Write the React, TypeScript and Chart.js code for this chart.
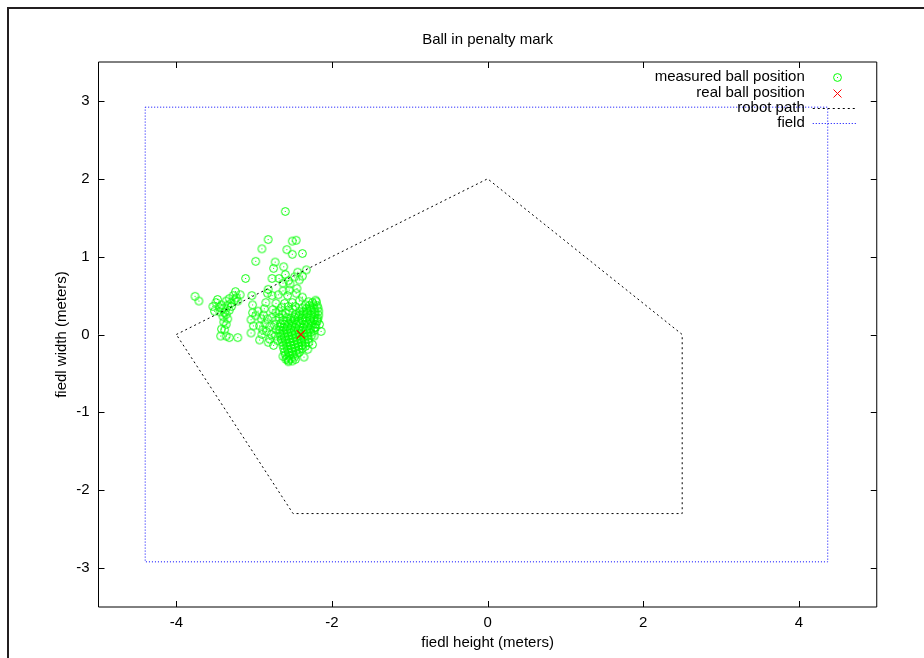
import React, { useEffect, useRef } from 'react';
import { Chart, registerables } from 'chart.js';

Chart.register(...registerables);

const TITLE = 'Ball in penalty mark';
const X_TITLE = 'fiedl height (meters)';
const Y_TITLE = 'fiedl width (meters)';
const X_TICKS = [-4, -2, 0, 2, 4];
const Y_TICKS = [-3, -2, -1, 0, 1, 2, 3];
const X_MIN = -5;
const X_MAX = 5;
const Y_MIN = -3.5;
const Y_MAX = 3.5;

const LEGEND_LABELS = ['measured ball position', 'real ball position', 'robot path', 'field'];

// measured ball positions [x, y]
const measuredPoints: [number, number][] = [
  // upper scatter
  [-2.60, 1.58], [-2.82, 1.22], [-2.90, 1.10], [-2.51, 1.20], [-2.46, 1.21], [-2.58, 1.09],
  [-2.51, 1.03], [-2.38, 1.04], [-2.98, 0.94], [-2.73, 0.93], [-2.75, 0.85], [-2.62, 0.87],
  [-2.33, 0.83], [-2.60, 0.77], [-2.44, 0.80], [-2.38, 0.75], [-2.77, 0.72], [-2.68, 0.72],
  [-2.56, 0.69], [-2.48, 0.74], [-3.11, 0.72], [-2.63, 0.66], [-2.54, 0.65], [-2.42, 0.70],
  [-2.82, 0.58], [-2.63, 0.56], [-2.55, 0.57], [-2.45, 0.59], [-3.03, 0.50], [-2.83, 0.53],
  [-2.77, 0.50], [-2.69, 0.51], [-2.57, 0.50], [-2.46, 0.53], [-2.38, 0.48], [-2.85, 0.41],
  [-2.72, 0.40], [-2.61, 0.40], [-2.51, 0.41], [-2.42, 0.43], [-3.02, 0.38], [-2.21, 0.44],
  // left group
  [-3.76, 0.49], [-3.71, 0.43], [-3.24, 0.55], [-3.18, 0.51], [-3.27, 0.50], [-3.32, 0.46],
  [-3.25, 0.44], [-3.36, 0.43], [-3.47, 0.45], [-3.49, 0.41], [-3.42, 0.38], [-3.53, 0.36],
  [-3.34, 0.37], [-3.29, 0.36], [-3.40, 0.33], [-3.32, 0.31], [-3.51, 0.30], [-3.44, 0.29],
  [-3.36, 0.26], [-3.40, 0.23], [-3.34, 0.20], [-3.39, 0.16], [-3.36, 0.13], [-3.42, 0.07],
  [-3.38, 0.06], [-3.43, -0.02], [-3.36, -0.02], [-3.32, -0.04], [-3.21, -0.04], [-3.23, 0.47],
  [-3.21, 0.43], [-3.45, 0.35], [-3.30, 0.40], [-3.38, 0.28],
  // middle scatter
  [-3.02, 0.28], [-3.04, 0.19], [-3.01, 0.11], [-3.04, 0.02], [-2.98, 0.24], [-2.93, 0.11],
  [-2.90, 0.00], [-2.93, -0.07], [-2.80, -0.06], [-2.95, 0.30], [-2.88, 0.25], [-2.83, 0.20],
  [-2.86, 0.14], [-2.80, 0.10], [-2.84, 0.04], [-2.78, 0.00], [-2.82, -0.10], [-2.75, -0.14],
  [-2.72, 0.28], [-2.77, 0.22], [-2.72, 0.18], [-2.74, 0.12], [-2.72, 0.06], [-2.73, -0.02],
  [-2.70, -0.08], [-2.76, 0.32], [-2.68, 0.30], [-2.64, 0.26], [-2.68, 0.22], [-2.60, 0.28],
  [-2.55, 0.30], [-2.50, 0.33], [-2.47, 0.36], [-2.56, 0.36], [-2.65, 0.35], [-2.87, 0.33],
  [-2.91, 0.20], [-2.89, 0.06],
  // right edge and bottom
  [-2.19, 0.19], [-2.16, 0.13], [-2.21, 0.09], [-2.14, 0.04], [-2.23, -0.02], [-2.25, -0.13],
  [-2.31, -0.19], [-2.36, -0.29], [-2.47, -0.32], [-2.63, -0.28], [-2.59, -0.32], [-2.56, -0.35],
  // dense cluster
  [-2.30, 0.42], [-2.25, 0.41], [-2.20, 0.42],
  [-2.34, 0.38], [-2.29, 0.37], [-2.24, 0.38], [-2.19, 0.37],
  [-2.38, 0.34], [-2.33, 0.33], [-2.28, 0.34], [-2.23, 0.33], [-2.18, 0.34],
  [-2.42, 0.30], [-2.37, 0.29], [-2.32, 0.30], [-2.27, 0.31], [-2.22, 0.29], [-2.17, 0.30],
  [-2.47, 0.26], [-2.42, 0.25], [-2.37, 0.26], [-2.32, 0.27], [-2.27, 0.25], [-2.22, 0.26], [-2.17, 0.25],
  [-2.58, 0.22], [-2.53, 0.21], [-2.48, 0.22], [-2.43, 0.23], [-2.38, 0.21], [-2.33, 0.22], [-2.28, 0.21], [-2.23, 0.22], [-2.18, 0.21],
  [-2.63, 0.18], [-2.58, 0.17], [-2.53, 0.18], [-2.48, 0.19], [-2.43, 0.17], [-2.38, 0.18], [-2.33, 0.17], [-2.28, 0.18], [-2.23, 0.19], [-2.19, 0.17],
  [-2.66, 0.14], [-2.61, 0.13], [-2.56, 0.14], [-2.51, 0.15], [-2.46, 0.13], [-2.41, 0.14], [-2.36, 0.13], [-2.31, 0.14], [-2.26, 0.15], [-2.21, 0.13],
  [-2.67, 0.10], [-2.62, 0.09], [-2.57, 0.10], [-2.52, 0.11], [-2.47, 0.09], [-2.42, 0.10], [-2.37, 0.09], [-2.32, 0.10], [-2.27, 0.11], [-2.22, 0.09],
  [-2.68, 0.06], [-2.63, 0.05], [-2.58, 0.06], [-2.53, 0.07], [-2.48, 0.05], [-2.43, 0.06], [-2.38, 0.05], [-2.33, 0.06], [-2.28, 0.07], [-2.23, 0.05],
  [-2.67, 0.02], [-2.62, 0.01], [-2.57, 0.02], [-2.52, 0.03], [-2.47, 0.01], [-2.42, 0.02], [-2.37, 0.01], [-2.32, 0.02], [-2.27, 0.03],
  [-2.66, -0.02], [-2.61, -0.03], [-2.56, -0.02], [-2.51, -0.01], [-2.46, -0.03], [-2.41, -0.02], [-2.36, -0.03], [-2.31, -0.02], [-2.26, -0.01],
  [-2.65, -0.06], [-2.60, -0.07], [-2.55, -0.06], [-2.50, -0.05], [-2.45, -0.07], [-2.40, -0.06], [-2.35, -0.07], [-2.30, -0.06],
  [-2.64, -0.10], [-2.59, -0.11], [-2.54, -0.10], [-2.49, -0.09], [-2.44, -0.11], [-2.39, -0.10], [-2.34, -0.11], [-2.30, -0.10],
  [-2.63, -0.14], [-2.58, -0.15], [-2.53, -0.14], [-2.48, -0.13], [-2.43, -0.15], [-2.38, -0.14], [-2.34, -0.15],
  [-2.62, -0.18], [-2.57, -0.19], [-2.52, -0.18], [-2.47, -0.17], [-2.42, -0.19], [-2.38, -0.18],
  [-2.61, -0.22], [-2.56, -0.23], [-2.51, -0.22], [-2.46, -0.21], [-2.42, -0.23],
  [-2.60, -0.26], [-2.55, -0.27], [-2.50, -0.26], [-2.45, -0.25],
  [-2.58, -0.30], [-2.53, -0.31], [-2.48, -0.29],
  [-2.56, -0.33], [-2.51, -0.34],
];

const realX = [-2.4];
const realY = [0];

const pathX = [-4, 0, 2.5, 2.5, -2.5, -4];
const pathY = [0, 2, 0, -2.3, -2.3, 0];

const fieldX = [-4.4, 4.37, 4.37, -4.4, -4.4];
const fieldY = [2.92, 2.92, -2.92, -2.92, 2.92];

const FONT = "'Liberation Sans', Arial, Helvetica, sans-serif";
const FONT_SIZE = 15;

function makeCircleDot(): HTMLCanvasElement {
  const c = document.createElement('canvas');
  c.width = 11;
  c.height = 11;
  const g = c.getContext('2d')!;
  g.strokeStyle = '#00ff00';
  g.lineWidth = 1;
  g.beginPath();
  g.arc(5.5, 5.5, 3.9, 0, Math.PI * 2);
  g.stroke();
  g.fillStyle = '#00ff00';
  g.fillRect(5, 5, 1, 1);
  return c;
}

export default function App() {
  const ref = useRef<HTMLCanvasElement | null>(null);

  useEffect(() => {
    if (!ref.current) return;
    const circleDot = makeCircleDot();

    const framePlugin = {
      id: 'frameTicks',
      afterDatasetsDraw(chart: any) {
        const { ctx, chartArea } = chart;
        const xs = chart.scales.x;
        const ys = chart.scales.y;
        const L = chartArea.left, R = chartArea.right, T = chartArea.top, B = chartArea.bottom;
        ctx.save();
        ctx.strokeStyle = '#000';
        ctx.lineWidth = 1;
        ctx.setLineDash([]);
        ctx.beginPath();
        ctx.rect(L, T, R - L, B - T);
        ctx.stroke();
        const len = 6;
        ctx.beginPath();
        X_TICKS.forEach((v) => {
          const p = Math.round(xs.getPixelForValue(v)) + 0.5;
          ctx.moveTo(p, B); ctx.lineTo(p, B - len);
          ctx.moveTo(p, T); ctx.lineTo(p, T + len);
        });
        Y_TICKS.forEach((v) => {
          const p = Math.round(ys.getPixelForValue(v)) + 0.5;
          ctx.moveTo(L, p); ctx.lineTo(L + len, p);
          ctx.moveTo(R, p); ctx.lineTo(R - len, p);
        });
        ctx.stroke();
        // title centred over the plot area
        ctx.font = `${FONT_SIZE}px ${FONT}`;
        ctx.fillStyle = '#000';
        ctx.textAlign = 'center';
        ctx.textBaseline = 'middle';
        ctx.fillText(TITLE, (L + R) / 2, 31);
        ctx.restore();
      },
    };

    const legendPlugin = {
      id: 'gnuLegend',
      afterDraw(chart: any) {
        const { ctx, chartArea } = chart;
        const R = chartArea.right;
        const T = chartArea.top;
        const textRight = R - 72;
        const symX = R - 40;
        const lineL = R - 64;
        const lineR = R - 20;
        ctx.save();
        ctx.font = `${FONT_SIZE}px ${FONT}`;
        ctx.textAlign = 'right';
        ctx.textBaseline = 'middle';
        LEGEND_LABELS.forEach((label, i) => {
          const y = T + 15.3 + i * 15.3;
          ctx.fillStyle = '#000';
          ctx.fillText(label, textRight, y);
          const ds = chart.data.datasets[i];
          if (i === 0) {
            ctx.drawImage(circleDot, Math.round(symX) - 5, Math.round(y) - 5);
          } else if (i === 1) {
            ctx.strokeStyle = ds.borderColor;
            ctx.lineWidth = 1;
            ctx.setLineDash([]);
            ctx.beginPath();
            const cx = Math.round(symX) + 0.5, cy = Math.round(y) + 0.5;
            ctx.moveTo(cx - 4, cy - 4); ctx.lineTo(cx + 4, cy + 4);
            ctx.moveTo(cx + 4, cy - 4); ctx.lineTo(cx - 4, cy + 4);
            ctx.stroke();
          } else {
            ctx.strokeStyle = ds.borderColor;
            ctx.lineWidth = 1;
            ctx.setLineDash(ds.borderDash);
            ctx.beginPath();
            const yy = Math.round(y) + 0.5;
            ctx.moveTo(lineL, yy); ctx.lineTo(lineR, yy);
            ctx.stroke();
          }
        });
        ctx.restore();
      },
    };

    const chart = new Chart(ref.current, {
      type: 'scatter',
      data: {
        datasets: [
          {
            label: LEGEND_LABELS[0],
            data: measuredPoints.map(([x, y]) => ({ x, y })),
            pointStyle: circleDot as any,
            pointRadius: 4,
            borderColor: '#00ff00',
            backgroundColor: '#00ff00',
            showLine: false,
            order: 4,
          },
          {
            label: LEGEND_LABELS[1],
            data: realX.map((x, i) => ({ x, y: realY[i] })),
            pointStyle: 'crossRot',
            pointRadius: 5.8,
            borderWidth: 1.2,
            pointBorderWidth: 1.2,
            borderColor: '#ff0000',
            pointBorderColor: '#ff0000',
            backgroundColor: '#ff0000',
            pointBackgroundColor: '#ff0000',
            showLine: false,
            order: 3,
          },
          {
            label: LEGEND_LABELS[2],
            data: pathX.map((x, i) => ({ x, y: pathY[i] })),
            showLine: true,
            pointRadius: 0,
            borderColor: '#000000',
            borderWidth: 1,
            borderDash: [2, 3],
            fill: false,
            order: 2,
          },
          {
            label: LEGEND_LABELS[3],
            data: fieldX.map((x, i) => ({ x, y: fieldY[i] })),
            showLine: true,
            pointRadius: 0,
            borderColor: '#0000ff',
            borderWidth: 1,
            borderDash: [1, 2],
            fill: false,
            order: 1,
          },
        ],
      },
      options: {
        responsive: false,
        animation: false,
        devicePixelRatio: 1,
        layout: { padding: { left: 0, right: 47.25, top: 53, bottom: 0 } },
        plugins: {
          legend: { display: false },
          tooltip: { enabled: false },
          title: { display: false },
        },
        scales: {
          x: {
            type: 'linear',
            min: X_MIN,
            max: X_MAX,
            grid: { display: false, drawTicks: false },
            border: { display: false },
            afterBuildTicks: (s: any) => { s.ticks = X_TICKS.map((v) => ({ value: v })); },
            afterFit: (s: any) => { s.height = 51; },
            ticks: {
              color: '#000',
              padding: 7,
              font: { family: FONT, size: FONT_SIZE },
              maxRotation: 0,
              callback: (v: any) => String(v),
            },
            title: {
              display: true,
              text: X_TITLE,
              color: '#000',
              font: { family: FONT, size: FONT_SIZE },
              padding: { top: 0, bottom: 6 },
            },
          },
          y: {
            type: 'linear',
            min: Y_MIN,
            max: Y_MAX,
            grid: { display: false, drawTicks: false },
            border: { display: false },
            afterBuildTicks: (s: any) => { s.ticks = Y_TICKS.map((v) => ({ value: v })); },
            afterFit: (s: any) => { s.width = 89.5; },
            ticks: {
              color: '#000',
              padding: 9,
              font: { family: FONT, size: FONT_SIZE },
              callback: (v: any) => String(v),
            },
            title: {
              display: true,
              text: Y_TITLE,
              color: '#000',
              font: { family: FONT, size: FONT_SIZE },
              padding: { top: 44, bottom: 0 },
            },
          },
        },
      },
      plugins: [framePlugin, legendPlugin],
    } as any);

    return () => chart.destroy();
  }, []);

  return (
    <div
      style={{
        position: 'fixed',
        left: 7,
        top: 7,
        width: 917,
        height: 651,
        borderTop: '2px solid #231f20',
        borderLeft: '2px solid #231f20',
        overflow: 'hidden',
        background: '#fff',
      }}
    >
      <canvas ref={ref} width={915} height={649} style={{ display: 'block' }} />
    </div>
  );
}
